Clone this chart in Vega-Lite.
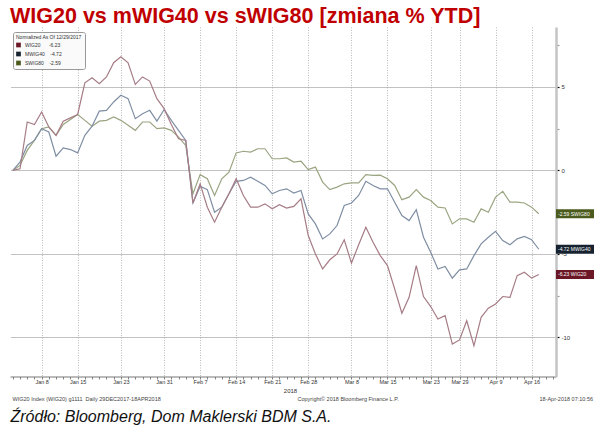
{
  "$schema": "https://vega.github.io/schema/vega-lite/v6.json",
  "autosize": "none",
  "width": 546,
  "height": 349.5,
  "padding": {"left": 10, "top": 27, "right": 41, "bottom": 50.5},
  "background": "white",
  "config": {"view": {"stroke": null}, "font": "Liberation Sans"},
  "title": {"text": "WIG20 vs mWIG40 vs sWIG80 [zmiana % YTD]", "anchor": "start", "frame": "group", "color": "#c00000", "font": "Liberation Sans", "fontSize": 21.5, "fontWeight": "bold", "baseline": "alphabetic", "offset": 5, "dy": 22},
  "datasets": {
    "idx": [
      {"date": "2017-12-29", "WIG20": 0, "mWIG40": 0, "sWIG80": 0},
      {"date": "2018-01-03", "WIG20": 0.1, "mWIG40": 0.5, "sWIG80": 0.3},
      {"date": "2018-01-04", "WIG20": 2.9, "mWIG40": 1.5, "sWIG80": 1.2},
      {"date": "2018-01-05", "WIG20": 2.75, "mWIG40": 1.8, "sWIG80": 1.8},
      {"date": "2018-01-08", "WIG20": 3.5, "mWIG40": 2.5, "sWIG80": 2.5},
      {"date": "2018-01-09", "WIG20": 2.6, "mWIG40": 2.3, "sWIG80": 2.6},
      {"date": "2018-01-10", "WIG20": 2.1, "mWIG40": 0.85, "sWIG80": 2.1},
      {"date": "2018-01-11", "WIG20": 2.95, "mWIG40": 1.35, "sWIG80": 2.75},
      {"date": "2018-01-12", "WIG20": 3.15, "mWIG40": 1.25, "sWIG80": 3.05},
      {"date": "2018-01-15", "WIG20": 3.35, "mWIG40": 1.05, "sWIG80": 3.35},
      {"date": "2018-01-16", "WIG20": 5.25, "mWIG40": 2.1, "sWIG80": 3.0},
      {"date": "2018-01-17", "WIG20": 5.55, "mWIG40": 2.65, "sWIG80": 2.65},
      {"date": "2018-01-18", "WIG20": 5.2, "mWIG40": 3.55, "sWIG80": 2.95},
      {"date": "2018-01-19", "WIG20": 5.6, "mWIG40": 3.6, "sWIG80": 3.0},
      {"date": "2018-01-22", "WIG20": 6.45, "mWIG40": 4.1, "sWIG80": 3.2},
      {"date": "2018-01-23", "WIG20": 6.8, "mWIG40": 4.5, "sWIG80": 3.0},
      {"date": "2018-01-24", "WIG20": 6.45, "mWIG40": 4.3, "sWIG80": 2.7},
      {"date": "2018-01-25", "WIG20": 5.15, "mWIG40": 3.1, "sWIG80": 2.4},
      {"date": "2018-01-26", "WIG20": 5.6, "mWIG40": 3.4, "sWIG80": 2.9},
      {"date": "2018-01-29", "WIG20": 5.35, "mWIG40": 3.6, "sWIG80": 2.9},
      {"date": "2018-01-30", "WIG20": 4.3, "mWIG40": 2.95, "sWIG80": 2.5},
      {"date": "2018-01-31", "WIG20": 3.7, "mWIG40": 3.65, "sWIG80": 2.55},
      {"date": "2018-02-01", "WIG20": 2.75, "mWIG40": 3.0, "sWIG80": 2.4},
      {"date": "2018-02-02", "WIG20": 1.9, "mWIG40": 2.4, "sWIG80": 2.0},
      {"date": "2018-02-05", "WIG20": 1.8, "mWIG40": 1.8, "sWIG80": 1.5},
      {"date": "2018-02-06", "WIG20": -1.95, "mWIG40": -1.95, "sWIG80": -1.4},
      {"date": "2018-02-07", "WIG20": -0.8, "mWIG40": -0.95, "sWIG80": -0.25},
      {"date": "2018-02-08", "WIG20": -2.2, "mWIG40": -1.15, "sWIG80": -0.5},
      {"date": "2018-02-09", "WIG20": -3.1, "mWIG40": -2.5, "sWIG80": -1.5},
      {"date": "2018-02-12", "WIG20": -2.2, "mWIG40": -2.2, "sWIG80": -0.5},
      {"date": "2018-02-13", "WIG20": -1.4, "mWIG40": -1.4, "sWIG80": -0.1},
      {"date": "2018-02-14", "WIG20": -0.5, "mWIG40": -0.65, "sWIG80": 1.05},
      {"date": "2018-02-15", "WIG20": -1.5, "mWIG40": -0.6, "sWIG80": 1.15},
      {"date": "2018-02-16", "WIG20": -2.2, "mWIG40": -0.4, "sWIG80": 1.1},
      {"date": "2018-02-19", "WIG20": -2.2, "mWIG40": -0.65, "sWIG80": 1.3},
      {"date": "2018-02-20", "WIG20": -2.0, "mWIG40": -0.9, "sWIG80": 1.3},
      {"date": "2018-02-21", "WIG20": -2.3, "mWIG40": -1.4, "sWIG80": 0.7},
      {"date": "2018-02-22", "WIG20": -2.05, "mWIG40": -1.2, "sWIG80": 0.7},
      {"date": "2018-02-23", "WIG20": -2.25, "mWIG40": -1.1, "sWIG80": 0.75},
      {"date": "2018-02-26", "WIG20": -2.15, "mWIG40": -1.35, "sWIG80": 0.5},
      {"date": "2018-02-27", "WIG20": -1.7, "mWIG40": -1.2, "sWIG80": 0.55},
      {"date": "2018-02-28", "WIG20": -3.9, "mWIG40": -2.6, "sWIG80": 0.05},
      {"date": "2018-03-01", "WIG20": -5.0, "mWIG40": -3.2, "sWIG80": 0.2},
      {"date": "2018-03-02", "WIG20": -5.9, "mWIG40": -4.1, "sWIG80": -0.7},
      {"date": "2018-03-05", "WIG20": -5.35, "mWIG40": -3.8, "sWIG80": -1.15},
      {"date": "2018-03-06", "WIG20": -5.0, "mWIG40": -3.3, "sWIG80": -1.0},
      {"date": "2018-03-07", "WIG20": -4.15, "mWIG40": -2.1, "sWIG80": -0.8},
      {"date": "2018-03-08", "WIG20": -5.55, "mWIG40": -1.95, "sWIG80": -0.75},
      {"date": "2018-03-09", "WIG20": -4.45, "mWIG40": -1.5, "sWIG80": -0.75},
      {"date": "2018-03-12", "WIG20": -3.4, "mWIG40": -0.65, "sWIG80": -0.25},
      {"date": "2018-03-13", "WIG20": -4.3, "mWIG40": -0.9, "sWIG80": -0.3},
      {"date": "2018-03-14", "WIG20": -5.1, "mWIG40": -1.1, "sWIG80": -0.28},
      {"date": "2018-03-15", "WIG20": -5.7, "mWIG40": -1.1, "sWIG80": -0.5},
      {"date": "2018-03-16", "WIG20": -7.1, "mWIG40": -1.9, "sWIG80": -0.9},
      {"date": "2018-03-19", "WIG20": -8.55, "mWIG40": -2.7, "sWIG80": -1.75},
      {"date": "2018-03-20", "WIG20": -7.6, "mWIG40": -3.0, "sWIG80": -1.6},
      {"date": "2018-03-21", "WIG20": -5.7, "mWIG40": -2.35, "sWIG80": -1.15},
      {"date": "2018-03-22", "WIG20": -7.55, "mWIG40": -4.0, "sWIG80": -1.6},
      {"date": "2018-03-23", "WIG20": -8.15, "mWIG40": -4.9, "sWIG80": -1.8},
      {"date": "2018-03-26", "WIG20": -8.9, "mWIG40": -5.9, "sWIG80": -2.2},
      {"date": "2018-03-27", "WIG20": -8.7, "mWIG40": -5.75, "sWIG80": -2.25},
      {"date": "2018-03-28", "WIG20": -10.4, "mWIG40": -6.45, "sWIG80": -3.2},
      {"date": "2018-03-29", "WIG20": -10.15, "mWIG40": -5.95, "sWIG80": -2.9},
      {"date": "2018-04-03", "WIG20": -9.0, "mWIG40": -5.9, "sWIG80": -2.9},
      {"date": "2018-04-04", "WIG20": -10.5, "mWIG40": -5.1, "sWIG80": -3.1},
      {"date": "2018-04-05", "WIG20": -8.8, "mWIG40": -4.4, "sWIG80": -2.3},
      {"date": "2018-04-06", "WIG20": -8.25, "mWIG40": -4.0, "sWIG80": -2.5},
      {"date": "2018-04-09", "WIG20": -8.0, "mWIG40": -3.65, "sWIG80": -1.6},
      {"date": "2018-04-10", "WIG20": -7.55, "mWIG40": -4.2, "sWIG80": -1.25},
      {"date": "2018-04-11", "WIG20": -7.6, "mWIG40": -4.45, "sWIG80": -1.9},
      {"date": "2018-04-12", "WIG20": -6.3, "mWIG40": -4.1, "sWIG80": -1.9},
      {"date": "2018-04-13", "WIG20": -6.1, "mWIG40": -3.95, "sWIG80": -1.95},
      {"date": "2018-04-16", "WIG20": -6.45, "mWIG40": -4.15, "sWIG80": -2.2},
      {"date": "2018-04-17", "WIG20": -6.23, "mWIG40": -4.72, "sWIG80": -2.59}
    ],
    "ends": [
      {"series": "WIG20", "value": -6.23, "label": "-6.23 WIG20"},
      {"series": "mWIG40", "value": -4.72, "label": "-4.72 MWIG40"},
      {"series": "sWIG80", "value": -2.59, "label": "-2.59 SWIG80"}
    ]
  },
  "resolve": {"scale": {"color": "independent"}, "axis": {"x": "independent", "y": "independent"}},
  "layer": [
    {
      "data": {"name": "idx"},
      "transform": [{"fold": ["sWIG80", "mWIG40", "WIG20"], "as": ["series", "value"]}],
      "mark": {"type": "line", "strokeWidth": 1.2},
      "encoding": {
        "x": {
          "field": "date", "type": "ordinal",
          "scale": {"type": "point", "padding": 0.39, "domain": ["2017-12-29","2018-01-03","2018-01-04","2018-01-05","2018-01-08","2018-01-09","2018-01-10","2018-01-11","2018-01-12","2018-01-15","2018-01-16","2018-01-17","2018-01-18","2018-01-19","2018-01-22","2018-01-23","2018-01-24","2018-01-25","2018-01-26","2018-01-29","2018-01-30","2018-01-31","2018-02-01","2018-02-02","2018-02-05","2018-02-06","2018-02-07","2018-02-08","2018-02-09","2018-02-12","2018-02-13","2018-02-14","2018-02-15","2018-02-16","2018-02-19","2018-02-20","2018-02-21","2018-02-22","2018-02-23","2018-02-26","2018-02-27","2018-02-28","2018-03-01","2018-03-02","2018-03-05","2018-03-06","2018-03-07","2018-03-08","2018-03-09","2018-03-12","2018-03-13","2018-03-14","2018-03-15","2018-03-16","2018-03-19","2018-03-20","2018-03-21","2018-03-22","2018-03-23","2018-03-26","2018-03-27","2018-03-28","2018-03-29","2018-04-03","2018-04-04","2018-04-05","2018-04-06","2018-04-09","2018-04-10","2018-04-11","2018-04-12","2018-04-13","2018-04-16","2018-04-17","2018-04-18","2018-04-19"]},
          "axis": {
            "orient": "bottom",
            "title": "2018", "titleFont": "Liberation Sans", "titleFontSize": 6, "titleFontWeight": "normal", "titleColor": "#333", "titleX": 280, "titleY": 13.5, "titleAlign": "center", "titleBaseline": "middle",
            "labelExpr": "indexof(['2018-01-08','2018-01-15','2018-01-23','2018-01-31','2018-02-07','2018-02-14','2018-02-21','2018-02-28','2018-03-08','2018-03-15','2018-03-23','2018-03-29','2018-04-09','2018-04-16'], datum.value) >= 0 ? utcFormat(utcParse(datum.value, '%Y-%m-%d'), '%b %-d') : ''",
            "labelFontSize": 5.5, "labelColor": "#333", "labelPadding": 0, "labelAngle": 0, "labelOverlap": false,
            "domainColor": "#777", "domainWidth": 1,
            "tickColor": "#666", "tickSize": 2.5, "tickWidth": 0.8,
            "grid": true, "gridColor": "#aaa", "gridDash": [1, 1.5], "gridWidth": 0.8,
            "gridOpacity": {"condition": {"test": "indexof(['2018-01-08','2018-01-15','2018-01-23','2018-01-31','2018-02-07','2018-02-14','2018-02-21','2018-02-28','2018-03-08','2018-03-15','2018-03-23','2018-03-29','2018-04-09','2018-04-16'], datum.value) >= 0", "value": 1}, "value": 0}
          }
        },
        "y": {
          "field": "value", "type": "quantitative",
          "scale": {"domain": [-12.34, 8.59], "nice": false, "zero": false},
          "axis": {
            "orient": "right", "title": null,
            "values": [-12.5, -10, -7.5, -5, -2.5, 0, 2.5, 5, 7.5],
            "labelExpr": "datum.value % 5 == 0 ? toString(datum.value) : ''",
            "labelFontSize": 6, "labelColor": "#333", "labelPadding": 2, "labelOverlap": false,
            "domainColor": "#c4c4c4", "domainWidth": 2.5,
            "tickColor": {"condition": {"test": "datum.value % 5 == 0", "value": "#000"}, "value": "#999"},
            "tickSize": 3, "tickWidth": 1.2,
            "grid": true, "gridColor": "#666", "gridDash": [1, 1], "gridWidth": 0.8,
            "gridOpacity": {"condition": {"test": "datum.value % 5 == 0", "value": 1}, "value": 0}
          }
        },
        "color": {"field": "series", "type": "nominal", "scale": {"domain": ["WIG20", "mWIG40", "sWIG80"], "range": ["#a67c86", "#7f8ea3", "#9aa582"]}, "legend": null}
      }
    },
    {
      "data": {"name": "ends"},
      "mark": {"type": "tick", "orient": "horizontal", "thickness": 9, "size": 38, "xOffset": 19, "opacity": 1},
      "encoding": {
        "x": {"value": "width"},
        "y": {"field": "value", "type": "quantitative", "scale": {"domain": [-12.34, 8.59], "nice": false, "zero": false}, "axis": null},
        "color": {
          "field": "series", "type": "nominal",
          "scale": {"domain": ["WIG20", "mWIG40", "sWIG80"], "range": ["#6b1726", "#16222f", "#4b5b1d"]},
          "legend": {
            "orient": "none", "legendX": 3, "legendY": 5,
            "title": "Normalized As Of 12/29/2017", "titleFont": "Liberation Sans", "titleFontSize": 5, "titleFontWeight": "normal", "titleColor": "#333", "titlePadding": 2.5,
            "labelFont": "Liberation Sans", "labelFontSize": 5, "labelColor": "#333",
            "labelExpr": "datum.label == 'WIG20' ? 'WIG20\u00a0\u00a0\u00a0\u00a0\u00a0\u00a0-6.23' : datum.label == 'mWIG40' ? 'MWIG40\u00a0\u00a0\u00a0\u00a0-4.72' : 'SWIG80\u00a0\u00a0\u00a0\u00a0-2.59'",
            "symbolType": "square", "symbolSize": 22, "symbolStrokeWidth": 0, "symbolOpacity": 1,
            "rowPadding": 3, "padding": 3, "fillColor": "#fafafa", "strokeColor": "#999", "cornerRadius": 2
          }
        }
      }
    },
    {
      "data": {"name": "ends"},
      "mark": {"type": "text", "align": "left", "baseline": "middle", "dx": 2, "fontSize": 5, "color": "white"},
      "encoding": {
        "x": {"value": "width"},
        "y": {"field": "value", "type": "quantitative", "scale": {"domain": [-12.34, 8.59], "nice": false, "zero": false}, "axis": null},
        "text": {"field": "label"}
      }
    },
    {
      "data": {"name": "idx"},
      "mark": {"type": "line", "strokeOpacity": 0},
      "encoding": {
        "x": {
          "field": "date", "type": "ordinal",
          "axis": {"orient": "bottom", "domain": false, "ticks": false, "labels": false, "grid": false, "title": "WIG20 Index (WIG20) g1111\u00a0\u00a0Daily 29DEC2017-18APR2018", "titleFont": "Liberation Sans", "titleFontSize": 5.5, "titleFontWeight": "normal", "titleColor": "#444", "titleX": 2, "titleY": 21.5, "titleAlign": "left", "titleBaseline": "middle"}
        },
        "y": {
          "field": "WIG20", "type": "quantitative", "scale": {"domain": [-12.34, 8.59], "nice": false, "zero": false},
          "axis": {"orient": "left", "domain": false, "ticks": false, "labels": false, "grid": false, "title": "Copyright© 2018 Bloomberg Finance L.P.", "titleFont": "Liberation Sans", "titleFontSize": 5.5, "titleFontWeight": "normal", "titleColor": "#444", "titleAngle": 0, "titleX": 287, "titleY": 371.5, "titleAlign": "left", "titleBaseline": "middle"}
        }
      }
    },
    {
      "data": {"name": "idx"},
      "mark": {"type": "line", "strokeOpacity": 0},
      "encoding": {
        "x": {
          "field": "date", "type": "ordinal",
          "axis": {"orient": "bottom", "domain": false, "ticks": false, "labels": false, "grid": false, "title": "18-Apr-2018 07:10:56", "titleFont": "Liberation Sans", "titleFontSize": 5.5, "titleFontWeight": "normal", "titleColor": "#444", "titleX": 529, "titleY": 21.5, "titleAlign": "left", "titleBaseline": "middle"}
        },
        "y": {
          "field": "WIG20", "type": "quantitative", "scale": {"domain": [-12.34, 8.59], "nice": false, "zero": false},
          "axis": {"orient": "left", "domain": false, "ticks": false, "labels": false, "grid": false, "title": "Źródło: Bloomberg, Dom Maklerski BDM S.A.", "titleFont": "Liberation Sans", "titleFontSize": 16, "titleFontStyle": "italic", "titleFontWeight": "normal", "titleColor": "#111", "titleAngle": 0, "titleX": 0, "titleY": 394, "titleAlign": "left", "titleBaseline": "alphabetic"}
        }
      }
    }
  ]
}
